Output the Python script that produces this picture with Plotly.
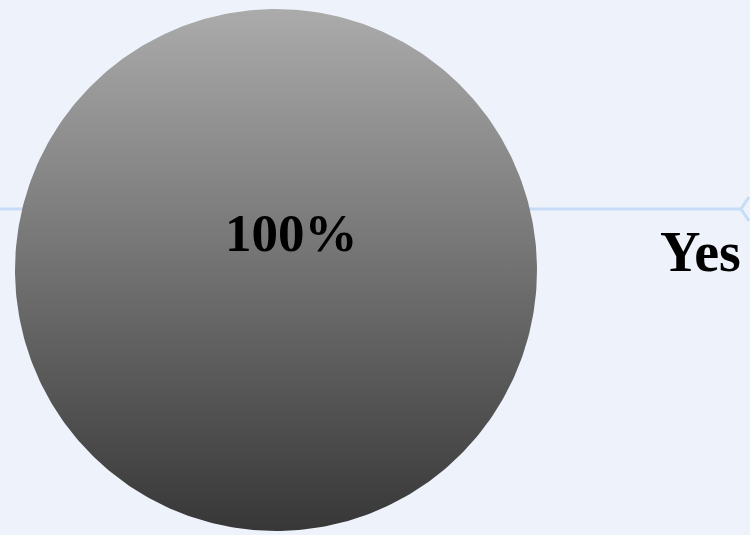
import math
import plotly.graph_objects as go

# ---- data ----
labels = ["Yes"]
values = [100]

W, H = 750, 535
BG = "#eef3fb"
LINE = "#c6dcf7"
FONT = "Liberation Serif"

# pie placement (pixels): centre and radius
cx, cy, r = 276, 270, 261
dom_x = [(cx - r) / W, (cx + r) / W]
dom_y = [(H - cy - r) / H, (H - cy + r) / H]

fig = go.Figure()

# gradient-filled slice polygons computed from the values (drawn on a square cartesian frame
# aligned with the pie domain)
total = sum(values)
start = 0.0
for lab, v in zip(labels, values):
    frac = v / total
    n = max(int(360 * frac), 2)
    angs = [math.pi / 2 - 2 * math.pi * (start + frac * k / n) for k in range(n + 1)]
    xs = [math.cos(a) for a in angs]
    ys = [math.sin(a) for a in angs]
    if frac < 0.9999:
        xs = [0] + xs + [0]
        ys = [0] + ys + [0]
    fig.add_trace(go.Scatter(
        x=xs, y=ys, mode="lines", fill="toself", line=dict(width=0),
        fillgradient=dict(type="vertical",
                          colorscale=[[0, "#373737"], [1, "#ababab"]]),
        hoverinfo="skip", showlegend=False,
    ))
    start += frac

# pie trace (transparent fill) for legend/hover
fig.add_trace(go.Pie(
    labels=labels, values=values, sort=False, direction="clockwise",
    marker=dict(colors=["rgba(0,0,0,0)"], line=dict(width=0)),
    textinfo="none", domain=dict(x=dom_x, y=dom_y),
))

# percentage label
for lab, v in zip(labels, values):
    fig.add_annotation(
        x=291 / W, y=(H - 233) / H, xref="paper", yref="paper",
        text=f"<b>{v / total:.0%}</b>", showarrow=False,
        font=dict(family=FONT, size=53, color="#000000"),
    )

# decorative horizontal line with chevron
fig.add_shape(type="line", xref="paper", yref="paper",
              x0=0, x1=741 / W, y0=(H - 209) / H, y1=(H - 209) / H,
              line=dict(color=LINE, width=3), layer="below")
fig.add_shape(type="path", xref="paper", yref="paper",
              path=f"M {749/W} {(H-197)/H} L {741/W} {(H-209)/H} L {749/W} {(H-221)/H}",
              line=dict(color=LINE, width=3), layer="below")

fig.update_layout(
    width=W, height=H,
    margin=dict(l=0, r=0, t=0, b=0),
    paper_bgcolor=BG, plot_bgcolor="rgba(0,0,0,0)",
    xaxis=dict(domain=dom_x, range=[-1, 1], visible=False, fixedrange=True),
    yaxis=dict(domain=dom_y, range=[-1, 1], visible=False, fixedrange=True),
    showlegend=True,
    legend=dict(x=620 / W, y=(H - 249) / H, xanchor="left", yanchor="middle",
                bgcolor="rgba(0,0,0,0)",
                font=dict(family=FONT, size=56, color="#000000", weight="bold")),
)

fig.write_html(
    "out.html",
    config={"displayModeBar": False},
    post_script="document.body.style.margin='0';document.body.style.overflow='hidden';"
                f"document.body.style.background='{BG}';",
)
